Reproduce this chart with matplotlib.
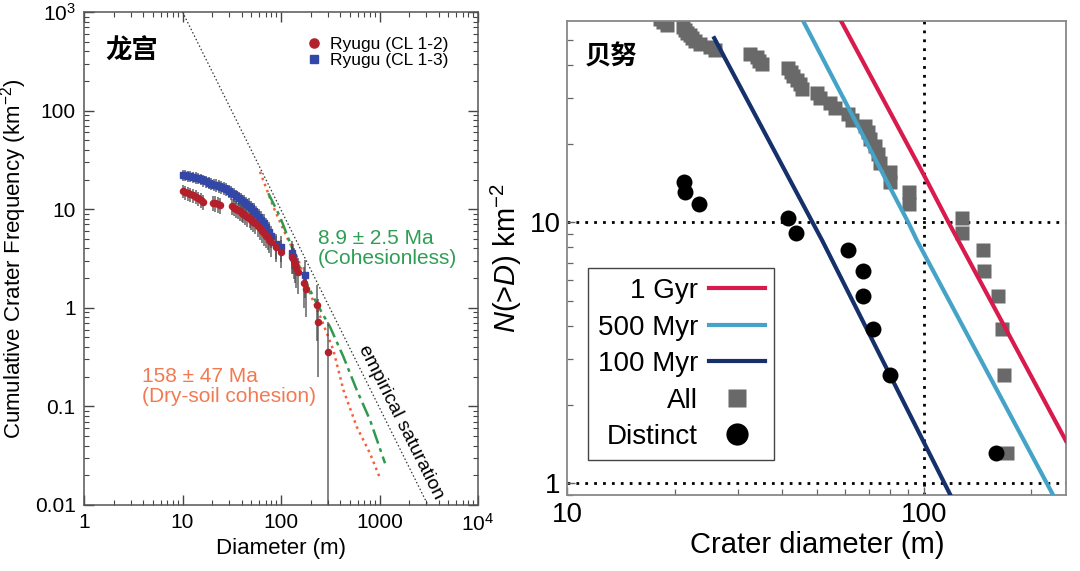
import matplotlib
matplotlib.use("Agg")
import matplotlib.pyplot as plt
from matplotlib.lines import Line2D
from matplotlib.ticker import FixedLocator, FixedFormatter, NullFormatter

plt.rcParams['font.family'] = ['Liberation Sans', 'DejaVu Sans']
plt.rcParams['mathtext.fontset'] = 'custom'
plt.rcParams['mathtext.rm'] = 'Liberation Sans'
plt.rcParams['mathtext.it'] = 'Liberation Sans:italic'
plt.rcParams['mathtext.bf'] = 'Liberation Sans:bold'

# ---- left panel: Ryugu ----
cl12_d = [10.0, 10.6, 11.3, 12.0, 12.8, 13.6, 14.5, 15.4, 16.3, 20.5, 21.5, 23.0, 24.0,
          32.0, 33.5, 35.0, 36.8, 38.5, 40.0, 41.5, 43.5, 45.5, 48.0, 50.0, 52.5, 55.0,
          58.0, 61.0, 64.0, 67.0, 70.0, 73.0, 76.0, 80.0, 90.0, 100.0, 130.0, 134.0,
          138.0, 143.0, 148.0, 172.0, 180.0, 230.0, 238.0, 300.0]
cl12_n = [15.2, 14.8, 14.5, 14.2, 13.9, 13.4, 12.9, 12.4, 11.9, 11.6, 11.5, 11.2, 11.0,
          10.7, 10.4, 10.1, 9.8, 9.5, 9.2, 9.0, 8.7, 8.4, 8.1, 7.8, 7.5, 7.2,
          6.8, 6.4, 6.0, 5.7, 5.4, 5.2, 4.9, 4.6, 4.1, 3.7, 3.3, 3.0,
          2.8, 2.55, 2.3, 1.8, 1.55, 1.08, 0.71, 0.36]
cl12_err = [2.34, 2.31, 2.28, 2.26, 2.24, 2.20, 2.15, 2.11, 2.07, 2.04, 2.03, 2.01, 1.99,
            1.96, 1.93, 1.91, 1.88, 1.85, 1.82, 1.80, 1.77, 1.74, 1.71, 1.68, 1.64, 1.61,
            1.56, 1.52, 1.47, 1.43, 1.39, 1.37, 1.33, 1.29, 1.21, 1.15, 1.09, 1.04,
            1.00, 0.96, 0.91, 0.80, 0.75, 0.62, 0.51, 0.36]

cl13_d = [10.0, 10.6, 11.3, 12.0, 12.8, 13.6, 14.5, 15.4, 16.3, 17.3, 18.4, 19.6, 20.8,
          22.0, 23.3, 24.7, 26.2, 27.8, 29.5, 31.3, 33.2, 35.2, 37.3, 39.5, 41.9, 44.4,
          47.0, 49.8, 52.8, 56.0, 59.4, 63.0, 66.8, 70.8, 75.0, 79.5, 90.0, 100.0,
          128.0, 133.0, 175.0]
cl13_n = [22.2, 22.0, 21.8, 21.5, 21.2, 20.9, 20.6, 20.1, 19.6, 19.1, 18.6, 18.2, 17.8,
          17.5, 17.2, 16.8, 16.4, 15.9, 15.3, 14.7, 14.1, 13.5, 12.9, 12.4, 11.9, 11.4,
          10.9, 10.3, 9.7, 8.9, 8.3, 7.8, 7.3, 6.6, 5.9, 5.4, 4.4, 4.1,
          3.6, 3.3, 2.15]
cl13_err = [2.83, 2.81, 2.80, 2.78, 2.76, 2.74, 2.72, 2.69, 2.66, 2.62, 2.59, 2.56, 2.53,
            2.51, 2.49, 2.46, 2.43, 2.39, 2.35, 2.30, 2.25, 2.20, 2.15, 2.11, 2.07, 2.03,
            1.98, 1.93, 1.87, 1.79, 1.73, 1.68, 1.62, 1.54, 1.46, 1.39, 1.26, 1.21,
            1.14, 1.09, 0.88]

sat_d = [10.0, 3100.0]
sat_n = [1000.0, 0.01]
cohesionless_d = [74.3, 97.7, 128, 169, 230, 314, 430, 587, 801, 1138]
cohesionless_n = [14.5, 8.4, 4.17, 2.07, 1.11, 0.643, 0.319, 0.147, 0.0728, 0.0265]
drysoil_d = [61.2, 83.5, 114, 150, 197, 259, 340, 430, 587, 801, 1012]
drysoil_n = [24.0, 10.6, 5.26, 3.05, 1.40, 0.75, 0.373, 0.147, 0.0622, 0.0334, 0.0187]

left_xticks = [1, 10, 100, 1000, 10000]
left_xlabels = ['1', '10', '100', '1000', r'$10^4$']
left_yticks = [0.01, 0.1, 1, 10, 100, 1000]
left_ylabels = ['0.01', '0.1', '1', '10', '100', r'$10^3$']

# ---- right panel: Bennu ----
all_d = [171, 168, 165, 161, 147, 146, 128, 128, 91, 91, 80.3, 80.3, 75, 74.3, 72.9,
         70.6, 69.5, 68.3, 62.8, 61.2, 56.3, 54.5, 51, 50.1, 45.5, 45, 44.0, 43, 42.3,
         41.5, 35, 34.5, 34.0, 32.5, 25.9, 25.1, 23.5, 22.8, 22.3, 22.1, 21.6, 21.3,
         21.1, 19.0, 18.5, 18.2]
all_n = [1.3, 2.6, 3.9, 5.2, 6.5, 7.8, 9.1, 10.4, 11.7, 13.0, 14.3, 15.6, 16.9, 18.2,
         19.5, 20.8, 22.1, 23.4, 24.7, 26.0, 27.3, 28.6, 29.9, 31.2, 32.5, 33.8, 35.1,
         36.4, 37.7, 39.0, 40.3, 41.6, 42.9, 44.2, 45.5, 46.8, 48.1, 49.4, 50.7, 52.0,
         53.3, 54.6, 55.9, 57.2, 58.5, 59.8]
distinct_d = [159, 80.2, 71.7, 67.4, 67.4, 61.1, 43.7, 41.5, 23.4, 21.4, 21.2]
distinct_n = [1.3, 2.6, 3.9, 5.2, 6.5, 7.8, 9.1, 10.4, 11.7, 13.0, 14.3]

gyr1_d = [58.5, 67.0, 100.0, 117.0, 250.0]
gyr1_n = [59.0, 41.8, 15.1, 10.0, 1.45]
myr500_d = [45.8, 90.2, 95.5, 230.0]
myr500_n = [59.0, 10.0, 8.5, 0.9]
myr100_d = [25.8, 51.8, 118.5]
myr100_n = [50.7, 8.5, 0.9]

fig = plt.figure(figsize=(10.8, 5.71), dpi=100)

# ================= left =================
ax = fig.add_axes([84 / 1080, 66 / 571, 394 / 1080, 493 / 571])
ax.set_xscale('log')
ax.set_yscale('log')
ax.set_xlim(1, 1e4)
ax.set_ylim(0.01, 1000)

ax.plot(sat_d, sat_n, color='#333333', lw=0.9, ls=(0, (1.2, 1.8)))
ax.plot(drysoil_d, drysoil_n, color='#f2603e', lw=1.8, ls=(0, (1, 1.6)))
ax.plot(cohesionless_d, cohesionless_n, color='#2d9a4e', lw=1.8, ls=(0, (6, 2, 1.5, 2)))

ax.errorbar(cl13_d, cl13_n, yerr=cl13_err, fmt='none', ecolor='#4a4a4a', elinewidth=1.2, alpha=0.8)
ax.errorbar(cl12_d, cl12_n, yerr=cl12_err, fmt='none', ecolor='#4a4a4a', elinewidth=1.2, alpha=0.8)
ax.plot(cl13_d, cl13_n, ls='none', marker='s', ms=4.2, color='#3347a8', mec='#3347a8',
        label='Ryugu (CL 1-3)')
ax.plot(cl12_d, cl12_n, ls='none', marker='o', ms=4.4, color='#b3202c', mec='#b3202c',
        label='Ryugu (CL 1-2)')

h, l = ax.get_legend_handles_labels()
ax.legend([h[1], h[0]], [l[1], l[0]], loc='upper right', bbox_to_anchor=(0.955, 0.975),
          frameon=False, fontsize=12.5, handlelength=0.8, handletextpad=0.5,
          labelspacing=0.08, borderaxespad=0.3, markerscale=1.5)

ax.text(0.053, 0.921, '龙宫', transform=ax.transAxes, fontsize=19, fontweight='bold',
        family=['Noto Sans CJK SC'], va='center', ha='left')
ax.text(238, 4.0, '8.9 ± 2.5 Ma\n(Cohesionless)', color='#2e9e55', fontsize=15,
        va='center', ha='left', linespacing=1.05)
ax.text(3.9, 0.16, '158 ± 47 Ma\n(Dry-soil cohesion)', color='#f27a52', fontsize=15,
        va='center', ha='left', linespacing=1.05)
ax.text(1650, 0.07, 'empirical saturation', rotation=-63.3, fontsize=14,
        va='center', ha='center', rotation_mode='anchor')

ax.xaxis.set_major_locator(FixedLocator(left_xticks))
ax.xaxis.set_major_formatter(FixedFormatter(left_xlabels))
ax.yaxis.set_major_locator(FixedLocator(left_yticks))
ax.yaxis.set_major_formatter(FixedFormatter(left_ylabels))
ax.xaxis.set_minor_formatter(NullFormatter())
ax.yaxis.set_minor_formatter(NullFormatter())
ax.tick_params(which='both', direction='in', top=True, right=True, color='#444444')
ax.tick_params(which='major', length=7, width=1.0, labelsize=15, pad=6)
ax.tick_params(which='minor', length=3.5, width=0.8)
for s in ax.spines.values():
    s.set_color('#555555')
    s.set_linewidth(1.1)
ax.set_xlabel('Diameter (m)', fontsize=16, labelpad=2)
ax.set_ylabel('Cumulative Crater Frequency (km$^{-2}$)', fontsize=16, labelpad=4)

# ================= right =================
bx = fig.add_axes([567.5 / 1080, 76 / 571, 498.5 / 1080, 474 / 571])
bx.set_xscale('log')
bx.set_yscale('log')
bx.set_xlim(10, 250)
bx.set_ylim(0.9, 59)

dot = (0, (1, 2.2))
bx.axvline(100, color='black', lw=2, ls=dot, zorder=1)
bx.axhline(10, color='black', lw=2, ls=dot, zorder=1)
bx.axhline(1, color='black', lw=2, ls=dot, zorder=1)

bx.plot(all_d, all_n, ls='none', marker='s', ms=10.5, color='#696969', mec='none', zorder=2)
bx.plot(gyr1_d, gyr1_n, color='#d81b4c', lw=3, zorder=3)
bx.plot(myr500_d, myr500_n, color='#45a3c8', lw=3, zorder=3)
bx.plot(myr100_d, myr100_n, color='#15306b', lw=3, zorder=3)
bx.plot(distinct_d, distinct_n, ls='none', marker='o', ms=11.5, color='black', mec='none', zorder=4)

handles = [Line2D([], [], color='#d81b4c', lw=3),
           Line2D([], [], color='#45a3c8', lw=3),
           Line2D([], [], color='#15306b', lw=3),
           Line2D([], [], ls='none', marker='s', ms=13, color='#696969', mec='none'),
           Line2D([], [], ls='none', marker='o', ms=16, color='black', mec='none')]
labels = ['1 Gyr', '500 Myr', '100 Myr', 'All', 'Distinct']
leg = bx.legend(handles, labels, loc='lower left', bbox_to_anchor=(0.041, 0.074),
                borderaxespad=0, markerfirst=False, fontsize=20, handlelength=2.0,
                handletextpad=0.4, labelspacing=0.38, borderpad=0.35, fancybox=False,
                framealpha=1)
leg.get_frame().set_edgecolor('#444444')
leg.get_frame().set_linewidth(1.0)

bx.text(0.035, 0.924, '贝努', transform=bx.transAxes, fontsize=19, fontweight='bold',
        family=['Noto Sans CJK SC'], va='center', ha='left')

bx.xaxis.set_major_locator(FixedLocator([10, 100]))
bx.xaxis.set_major_formatter(FixedFormatter(['10', '100']))
bx.yaxis.set_major_locator(FixedLocator([1, 10]))
bx.yaxis.set_major_formatter(FixedFormatter(['1', '10']))
bx.xaxis.set_minor_formatter(NullFormatter())
bx.yaxis.set_minor_formatter(NullFormatter())
bx.tick_params(which='both', direction='in', color='#666666')
bx.tick_params(which='major', length=6, width=1.0, labelsize=20, pad=5)
bx.tick_params(which='minor', length=4, width=0.9)
for s in bx.spines.values():
    s.set_color('#888888')
    s.set_linewidth(1.3)
bx.set_xlabel('Crater diameter (m)', fontsize=21, labelpad=2)
bx.set_ylabel(r'$N$(>$D$) km$^{-2}$', fontsize=21, labelpad=4)

fig.savefig('out.png', dpi=100)
